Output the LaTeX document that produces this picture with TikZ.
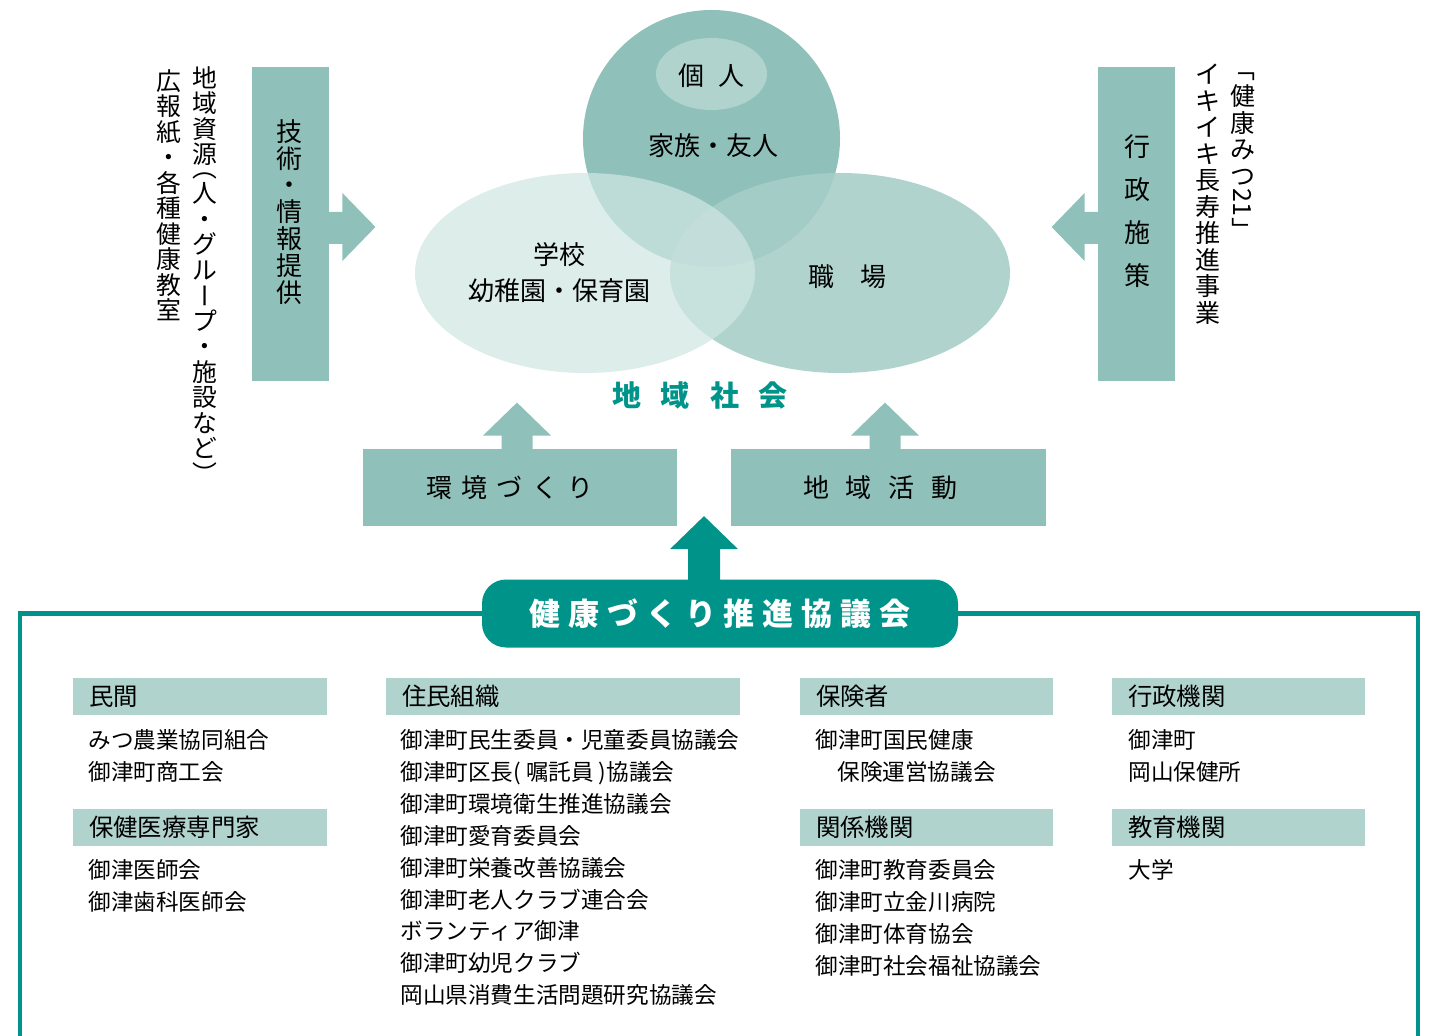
\documentclass[tikz,border=0pt]{standalone}
\usepackage{fontspec}
\setmainfont{Noto Sans CJK JP}
\usepackage{graphicx}
\usetikzlibrary{calc}
\definecolor{barcol}{HTML}{8FC1BA}
\definecolor{hdrcol}{HTML}{B0D3CE}
\definecolor{deep}{HTML}{00938A}
\definecolor{circcol}{HTML}{8FC1BA}
\definecolor{innercol}{HTML}{B0D3CE}
\definecolor{rellcol}{HTML}{A7CEC8}
\definecolor{lellcol}{HTML}{CFE6E2}
\makeatletter
\newcommand\tracked[2]{\def\tr@sep{#1}\tr@loop#2\relax}
\def\tr@loop#1#2{#1\ifx\relax#2\else\hspace{\tr@sep}\expandafter\tr@loop\fi#2}
\makeatother
\newcommand\vrot[1]{\rotatebox[origin=c]{-90}{\vphantom{あ}#1}}
\tikzset{
  vstack/.style={align=center, inner sep=0pt, anchor=north},
  barbox/.style={fill=barcol, inner sep=0pt},
  item/.style={anchor=west, inner sep=0pt, font=\fontsize{11.3}{13}\selectfont, text height=9.9pt, text depth=1.4pt},
  hdr/.style={fill=hdrcol, inner xsep=8pt, inner ysep=0pt, minimum height=18.5pt, align=left, font=\fontsize{12.2}{13}\selectfont, text height=10.7pt, text depth=1.5pt},
  ctext/.style={inner sep=0pt, font=\fontsize{13}{14}\selectfont},
  frame/.style={draw=deep, line width=2.2pt},
  council/.style={fill=deep, text=white, rounded corners=12pt, minimum width=238pt, minimum height=34pt, inner sep=0pt, font=\bfseries\fontsize{15.5}{16}\selectfont},
}
\begin{document}
\begin{tikzpicture}[x=0.5pt,y=-0.5pt]
\useasboundingbox (0,0) rectangle (1433,1036);

% ---- circles of the community ----
\fill[circcol] (711.5,138.5) circle [radius=64.25pt];
\fill[innercol] (711.5,74) ellipse [x radius=27.75pt, y radius=18pt];
\fill[rellcol, fill opacity=0.9] (840,273) ellipse [x radius=85pt, y radius=50pt];
\fill[lellcol, fill opacity=0.73] (585,273) ellipse [x radius=85pt, y radius=50pt];

\node[ctext] (kojin) at (711,76) {個\hspace{7pt}人};
\node[ctext] (kazoku) at (713,146) {家族・友人};
\node[ctext] (gakko) at (559,255) {学校};
\node[ctext] (yochien) at (559,291) {幼稚園・保育園};
\node[ctext] (shokuba) at (847,277) {職　場};
\node[inner sep=0pt, text=deep, font=\bfseries\fontsize{14.5}{15}\selectfont] (chiiki) at (700,395) {\tracked{10pt}{地域社会}};

% ---- left bar ----
\node[barbox, minimum width=38.5pt, minimum height=157pt] (tech) at (290.5,224) {};
\node[vstack, font=\fontsize{13}{13.4}\selectfont] (techt) at (289,119) {技\\術\\・\\情\\報\\提\\供};
\begin{scope}[shift={(tech.east)}]
  \fill[barcol] (-1,-12) -- (13,-12) -- (13,-31) -- (46,3) -- (13,37) -- (13,20) -- (-1,20) -- cycle;
\end{scope}
\node[vstack, font=\fontsize{12.4}{12.75}\selectfont] (res) at (205,66) {地\\域\\資\\源\\[-6pt]\vrot{（}\\人\\・\\グ\\ル\\\vrot{ー}\\プ\\・\\施\\設\\な\\ど\\\vrot{）}};
\node[vstack, font=\fontsize{12.4}{12.75}\selectfont] (pr) at (169,69) {広\\報\\紙\\・\\各\\種\\健\\康\\教\\室};

% ---- right bar ----
\node[barbox, minimum width=38.5pt, minimum height=157pt] (policy) at (1136.5,224) {};
\node[vstack, font=\fontsize{13}{21.5}\selectfont] (policyt) at (1137,134) {行\\政\\施\\策};
\begin{scope}[shift={(policy.west)}]
  \fill[barcol] (1,-12) -- (-13,-12) -- (-13,-31) -- (-46,3) -- (-13,37) -- (-13,20) -- (1,20) -- cycle;
\end{scope}
\node[vstack, font=\fontsize{12.5}{13.3}\selectfont] (kenko) at (1243,56) {\vrot{「}\\健\\康\\み\\つ\\\vrot{21}\\\vrot{」}};
\node[vstack, font=\fontsize{12.5}{13.25}\selectfont] (iki) at (1208,64) {イ\\キ\\イ\\キ\\長\\寿\\推\\進\\事\\業};

% ---- middle boxes ----
\node[barbox, minimum width=157pt, minimum height=38.5pt, font=\fontsize{13}{14}\selectfont] (env) at (520,487.5) {\tracked{4.6pt}{環境づくり}\kern10pt};
\node[barbox, minimum width=157.5pt, minimum height=38.5pt, font=\fontsize{13}{14}\selectfont] (act) at (888.5,487.5) {\tracked{8.5pt}{地域活動}\kern8pt};
\begin{scope}[shift={(env.north)}]
  \fill[barcol] (-18.5,1) -- (-18.5,-13) -- (-37,-13) -- (-3,-46) -- (31,-13) -- (12.5,-13) -- (12.5,1) -- cycle;
\end{scope}
\begin{scope}[shift={(act.north)}]
  \fill[barcol] (-19,1) -- (-19,-13) -- (-37.5,-13) -- (-3.5,-46) -- (30.5,-13) -- (12,-13) -- (12,1) -- cycle;
\end{scope}

% ---- council and frame ----
\node[council] (council) at (720,613.5) {\tracked{4pt}{健康づくり推進協議会}};
\draw[frame] (council.west) -- (20,613.5) -- (20,1040);
\draw[frame] (council.east) -- (1418,613.5) -- (1418,1040);
\begin{scope}[shift={(council.north)}]
  \fill[deep] (-32,1) -- (-32,-30) -- (-50,-30) -- (-16,-63) -- (18,-30) -- (0,-30) -- (0,1) -- cycle;
\end{scope}

% ---- headers ----
\node[hdr, text width=111pt] (h1) at (200,696.5) {民間};
\node[hdr, text width=161pt] (h2) at (563,696.5) {住民組織};
\node[hdr, text width=110.5pt] (h3) at (926.5,696.5) {保険者};
\node[hdr, text width=110.5pt] (h4) at (1238.5,696.5) {行政機関};
\node[hdr, text width=111pt] (h5) at (200,827.5) {保健医療専門家};
\node[hdr, text width=110.5pt] (h6) at (926.5,827.5) {関係機関};
\node[hdr, text width=110.5pt] (h7) at (1238.5,827.5) {教育機関};

% ---- items ----
\node[item] (a1) at (88,740) {みつ農業協同組合};
\node[item] (a2) at (88,772) {御津町商工会};
\node[item] (e1) at (88,870) {御津医師会};
\node[item] (e2) at (88,902) {御津歯科医師会};

\foreach \t [count=\i] in {御津町民生委員・児童委員協議会,御津町区長( 嘱託員 )協議会,御津町環境衛生推進協議会,御津町愛育委員会,御津町栄養改善協議会,御津町老人クラブ連合会,ボランティア御津,御津町幼児クラブ,岡山県消費生活問題研究協議会}
  \node[item] (b\i) at (400,{740+31.9*(\i-1)}) {\t};

\node[item] (c1) at (815,740) {御津町国民健康};
\node[item] (c2) at (837,772) {保険運営協議会};
\foreach \t [count=\i] in {御津町教育委員会,御津町立金川病院,御津町体育協会,御津町社会福祉協議会}
  \node[item] (f\i) at (815,{870+32*(\i-1)}) {\t};

\node[item] (d1) at (1128,740) {御津町};
\node[item] (d2) at (1128,772) {岡山保健所};
\node[item] (g1) at (1128,870) {大学};
\end{tikzpicture}
\end{document}
